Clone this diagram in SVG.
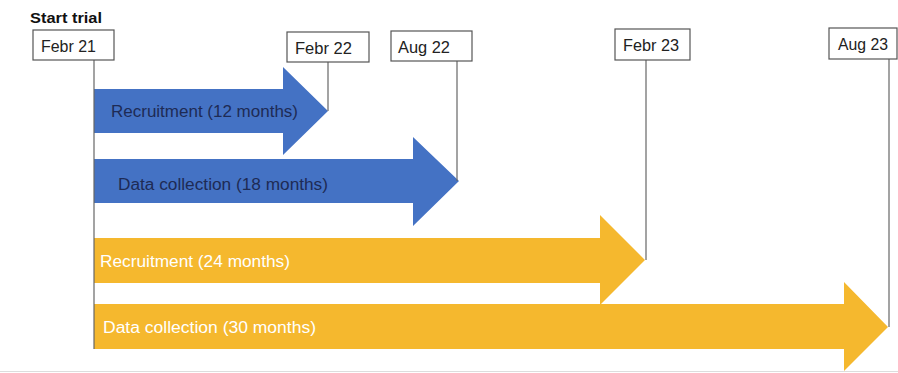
<svg xmlns="http://www.w3.org/2000/svg" width="898" height="373" viewBox="0 0 898 373">
<style>
.box{fill:#fff;stroke:#555;stroke-width:1.2}
.lbl{font-family:"Liberation Sans",Arial,sans-serif;font-size:16px;fill:#222}
.ln{stroke:#666;stroke-width:1.2;fill:none}
.blue{fill:#4472C4}
.yel{fill:#F5B82E}
.dt{font-family:"Liberation Sans",Arial,sans-serif;font-size:16px;fill:#1E2B55}
.wt{font-family:"Liberation Sans",Arial,sans-serif;font-size:16px;fill:#fff}
</style>
<rect width="898" height="373" fill="#fff"/>
<line x1="0" y1="371.5" x2="898" y2="371.5" stroke="#ddd" stroke-width="1"/>
<text x="30" y="23" font-family="Liberation Sans,Arial,sans-serif" font-size="15" font-weight="bold" fill="#111" textLength="72" lengthAdjust="spacingAndGlyphs">Start trial</text>
<g id="arrows">
<g id="a1"><polygon class="blue" points="94,89 283,89 283,67 328,111 283,155 283,133 94,133"/><text class="dt" x="111" y="117" textLength="187" lengthAdjust="spacingAndGlyphs">Recruitment (12 months)</text></g>
<g id="a2"><polygon class="blue" points="94,159 413,159 413,137 459,181 413,226 413,203 94,203"/><text class="dt" x="118" y="190" textLength="210" lengthAdjust="spacingAndGlyphs">Data collection (18 months)</text></g>
<g id="a3"><polygon class="yel" points="94,238 600,238 600,215 645,260 600,305 600,283 94,283"/><text class="wt" x="100" y="267" textLength="190" lengthAdjust="spacingAndGlyphs">Recruitment (24 months)</text></g>
<g id="a4"><polygon class="yel" points="94,304 844,304 844,282 888,327 844,371 844,349 94,349"/><text class="wt" x="103" y="333" textLength="213" lengthAdjust="spacingAndGlyphs">Data collection (30 months)</text></g>
</g>
<g id="connectors">
<line class="ln" x1="94" y1="60" x2="94" y2="349"/>
<line class="ln" x1="328" y1="62" x2="328" y2="111"/>
<line class="ln" x1="457" y1="61" x2="457" y2="181"/>
<line class="ln" x1="646" y1="60" x2="646" y2="260"/>
<line class="ln" x1="889" y1="59" x2="889" y2="327"/>
</g>
<g id="febr21"><rect class="box" x="33" y="30" width="81" height="30"/><text class="lbl" x="41" y="52" textLength="55" lengthAdjust="spacingAndGlyphs">Febr 21</text></g>
<g id="febr22"><rect class="box" x="287" y="32" width="82" height="30"/><text class="lbl" x="295" y="54" textLength="57" lengthAdjust="spacingAndGlyphs">Febr 22</text></g>
<g id="aug22"><rect class="box" x="391" y="31" width="81" height="30"/><text class="lbl" x="398" y="53" textLength="52" lengthAdjust="spacingAndGlyphs">Aug 22</text></g>
<g id="febr23"><rect class="box" x="615" y="29" width="75" height="31"/><text class="lbl" x="623" y="51" textLength="56" lengthAdjust="spacingAndGlyphs">Febr 23</text></g>
<g id="aug23"><rect class="box" x="829" y="28" width="68" height="31"/><text class="lbl" x="838" y="50" textLength="50" lengthAdjust="spacingAndGlyphs">Aug 23</text></g>
</svg>
